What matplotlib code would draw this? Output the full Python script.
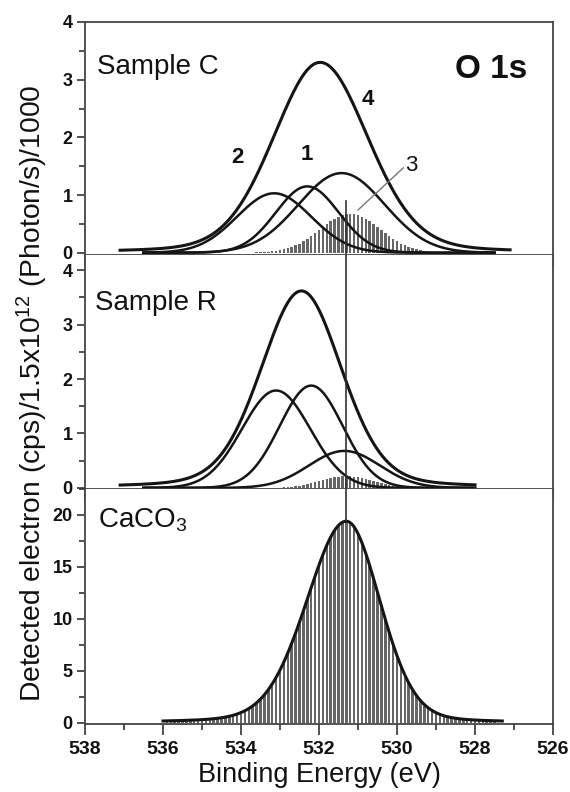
import numpy as np
import matplotlib
matplotlib.use('Agg')
import matplotlib.pyplot as plt
from matplotlib.ticker import MultipleLocator

plt.rcParams['font.family'] = ['Liberation Sans', 'DejaVu Sans']
plt.rcParams['font.weight'] = 'bold'
plt.rcParams['mathtext.default'] = 'regular'

# ---------------- data ----------------
# x axis (binding energy, eV) shown from high to low
energy_limits = (538, 526)
energy_ticks = [538, 536, 534, 532, 530, 528, 526]
ref_energy = 531.3          # vertical reference line (CaCO3 O 1s position)

# Each peak: centre (eV), height, HWHM high-E side, HWHM low-E side, Lorentz fraction
# Sample C
c_env = (531.97, 3.30, 1.42, 1.45, 0.18)
c_env_span = (537.1, 527.1)
c_labels = ['2', '1', '4', '3']
c_centers = [533.15, 532.30, 531.42, 531.20]
c_heights = [1.03, 1.15, 1.38, 0.67]
c_hwhm = [1.12, 0.95, 1.30, 0.90]
c_hatched = [False, False, False, True]

# Sample R
r_env = (532.45, 3.62, 1.23, 1.22, 0.22)
r_env_span = (537.1, 528.0)
r_centers = [533.10, 532.20, 531.35, 531.30]
r_heights = [1.79, 1.88, 0.68, 0.22]
r_hwhm = [1.03, 0.95, 1.07, 0.75]
r_hatched = [False, False, False, True]

# CaCO3 reference
k_env = (531.30, 19.4, 1.20, 1.02, 0.16)
k_env_span = (536.0, 527.3)

panel_names = ['Sample C', 'Sample R', 'CaCO$_3$']
panel_ylims = [(-0.04, 4.0), (-0.02, 4.28), (-0.1, 22.5)]
panel_yticks = [[0, 1, 2, 3, 4], [0, 1, 2, 3, 4], [0, 5, 10, 15, 20]]

# ---------------- helpers ----------------
def peak(x, c, h, wl, wr, eta):
    w = np.where(x > c, wl, wr)
    u = (x - c) / w
    return h * ((1 - eta) * np.exp(-np.log(2) * u ** 2) + eta / (1 + u ** 2))

LINE = '#151515'
BAR = '#666666'
TXT = '#111111'
bar_x = np.arange(527.5, 536.0, 0.1)

fig = plt.figure(figsize=(5.7, 7.92), dpi=100)
L, R = 85 / 570, 553 / 570
edges = [22, 255, 489, 724]
axes = []
for i in range(3):
    b = 1 - edges[i + 1] / 792
    t = 1 - edges[i] / 792
    ax = fig.add_axes([L, b, R - L, t - b])
    axes.append(ax)

for i, ax in enumerate(axes):
    ax.set_xlim(*energy_limits)
    ax.set_ylim(*panel_ylims[i])
    ax.set_xticks(energy_ticks)
    ax.xaxis.set_minor_locator(MultipleLocator(1))
    ax.set_yticks(panel_yticks[i])
    ax.set_yticklabels([str(v) for v in panel_yticks[i]], fontweight='bold',
                       fontsize=13, color=TXT)
    ax.yaxis.set_minor_locator(MultipleLocator(0.5 if i < 2 else 2.5))
    ax.tick_params(which='both', direction='out', color='#333', width=1.2)
    ax.tick_params(axis='x', which='major', length=8, pad=4)
    ax.tick_params(axis='x', which='minor', length=8 if i < 2 else 4)
    ax.tick_params(axis='y', which='major', length=6, pad=3)
    ax.tick_params(axis='y', which='minor', length=4)
    if i < 2:
        ax.tick_params(axis='x', labelbottom=False)
    else:
        ax.set_xticklabels([str(v) for v in energy_ticks], fontweight='bold',
                           fontsize=14, color=TXT)
    for s in ax.spines.values():
        s.set_color('#444')
        s.set_linewidth(1.3)
    if i > 0:
        ax.spines['top'].set_visible(False)

# ---- panel 1: Sample C ----
ax = axes[0]
for c, h, w, hat in zip(c_centers, c_heights, c_hwhm, c_hatched):
    xs = np.linspace(536.5, 527.5, 500)
    if hat:
        ax.bar(bar_x, peak(bar_x, c, h, w, w, 0), width=0.062, color=BAR, lw=0)
    else:
        ax.plot(xs, peak(xs, c, h, w, w, 0), color=LINE, lw=1.8)
xe = np.linspace(*c_env_span, 700)
ax.plot(xe, peak(xe, *c_env), color=LINE, lw=2.2)
ax.plot([ref_energy, ref_energy], [-0.1, 0.9], color='#333', lw=1.2, clip_on=False)
ax.plot([529.84, 531.0], [1.47, 0.74], color='#777', lw=1.0)
lab_pos = [(534.08, 1.56), (532.32, 1.61), (530.74, 2.56), (529.63, 1.41)]
for lab, (lx, ly) in zip(c_labels, lab_pos):
    ax.text(lx, ly, lab, ha='center', va='baseline', fontsize=16,
            fontweight='normal' if lab == '3' else 'bold', color=TXT)
ax.text(537.69, 3.10, panel_names[0], ha='left', va='baseline', fontsize=20,
        fontweight='normal', color=TXT)
ax.text(526.67, 3.03, 'O 1s', ha='right', va='baseline', fontsize=24,
        fontweight='bold', color=TXT)

# ---- panel 2: Sample R ----
ax = axes[1]
for c, h, w, hat in zip(r_centers, r_heights, r_hwhm, r_hatched):
    xs = np.linspace(536.5, 528.0, 500)
    if hat:
        ax.bar(bar_x, peak(bar_x, c, h, w, w, 0), width=0.062, color=BAR, lw=0)
    else:
        ax.plot(xs, peak(xs, c, h, w, w, 0), color=LINE, lw=1.8)
xe = np.linspace(*r_env_span, 700)
ax.plot(xe, peak(xe, *r_env), color=LINE, lw=2.2)
ax.axvline(ref_energy, color='#333', lw=1.2)
ax.text(537.74, 3.27, panel_names[1], ha='left', va='baseline', fontsize=20,
        fontweight='normal', color=TXT)

# ---- panel 3: CaCO3 ----
ax = axes[2]
ax.bar(bar_x, peak(bar_x, *k_env), width=0.062, color=BAR, lw=0)
xe = np.linspace(*k_env_span, 700)
ax.plot(xe, peak(xe, *k_env), color=LINE, lw=2.2)
ax.plot([ref_energy, ref_energy], [19.5, 22.5], color='#333', lw=1.2)
ax.text(537.67, 18.75, panel_names[2], ha='left', va='baseline', fontsize=20,
        fontweight='normal', color=TXT)
ax.set_xlabel('Binding Energy (eV)', fontsize=19.5, fontweight='normal',
              color=TXT, labelpad=3)

fig.text(0.056, 0.503, 'Detected electron (cps)/1.5x10$^{12}$ (Photon/s)/1000',
         rotation=90, ha='center', va='center', fontsize=20.3,
         fontweight='normal', color=TXT)

fig.savefig('out.png', dpi=100)
